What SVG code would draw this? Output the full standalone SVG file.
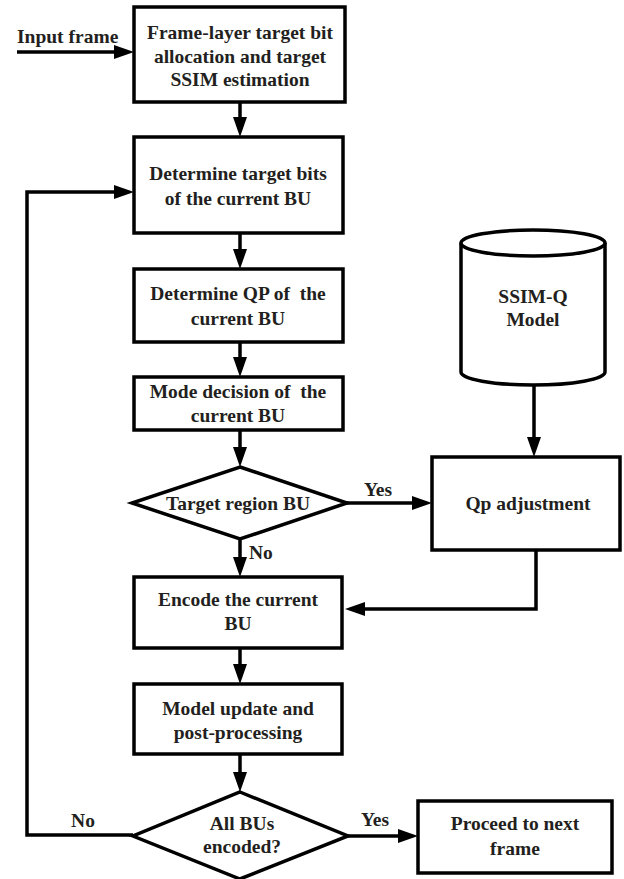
<svg xmlns="http://www.w3.org/2000/svg" width="624" height="879" viewBox="0 0 624 879">
<defs>
<style>
.box{fill:#fff;stroke:#000;stroke-width:3.5}
.ln{fill:none;stroke:#000;stroke-width:3.5}
.t{font-family:"Liberation Serif","Times New Roman",serif;font-weight:bold;font-size:19.5px;fill:#231f20;text-anchor:middle}
.ts{text-anchor:start}
</style>
<marker id="ah" viewBox="0 0 20 14" refX="14" refY="7" markerWidth="20" markerHeight="14" markerUnits="userSpaceOnUse" orient="auto">
<path d="M0,0 L20,7 L0,14 z" fill="#000"/>
</marker>
</defs>
<rect width="624" height="879" fill="#fff"/>

<g id="connectors">
<line class="ln" x1="17" y1="52" x2="128" y2="52" marker-end="url(#ah)"/>
<line class="ln" x1="240" y1="102" x2="240" y2="131" marker-end="url(#ah)"/>
<line class="ln" x1="240" y1="233" x2="240" y2="263" marker-end="url(#ah)"/>
<line class="ln" x1="240" y1="342" x2="240" y2="371" marker-end="url(#ah)"/>
<line class="ln" x1="240" y1="430" x2="240" y2="461" marker-end="url(#ah)"/>
<line class="ln" x1="240" y1="539" x2="240" y2="571" marker-end="url(#ah)"/>
<line class="ln" x1="240" y1="648" x2="240" y2="678" marker-end="url(#ah)"/>
<line class="ln" x1="240" y1="754" x2="240" y2="786" marker-end="url(#ah)"/>
<line class="ln" x1="347" y1="503" x2="426" y2="503" marker-end="url(#ah)"/>
<line class="ln" x1="534" y1="386" x2="534" y2="451" marker-end="url(#ah)"/>
<polyline class="ln" points="536,550 536,609 351,609" marker-end="url(#ah)"/>
<polyline class="ln" points="133,835 27,835 27,192 128,192" marker-end="url(#ah)"/>
<line class="ln" x1="348" y1="836" x2="412" y2="836" marker-end="url(#ah)"/>
<text class="t ts" x="17" y="43">Input frame</text>
<text class="t" x="378" y="496">Yes</text>
<text class="t ts" x="249" y="559">No</text>
<text class="t" x="83" y="827">No</text>
<text class="t" x="375" y="826">Yes</text>
</g>

<g id="frame-alloc">
<rect class="box" x="134" y="7" width="211" height="95"/>
<text class="t" x="240" y="39">Frame-layer target bit</text>
<text class="t" x="240" y="63">allocation and target</text>
<text class="t" x="240" y="86">SSIM estimation</text>
</g>

<g id="target-bits">
<rect class="box" x="134" y="137" width="209" height="96"/>
<text class="t" x="238" y="180">Determine target bits</text>
<text class="t" x="238" y="205">of the current BU</text>
</g>

<g id="determine-qp">
<rect class="box" x="134" y="269" width="209" height="73"/>
<text class="t" x="238" y="300" xml:space="preserve">Determine QP of  the</text>
<text class="t" x="238" y="325">current BU</text>
</g>

<g id="mode-decision">
<rect class="box" x="134" y="377" width="209" height="53"/>
<text class="t" x="238" y="398" xml:space="preserve">Mode decision of  the</text>
<text class="t" x="238" y="422">current BU</text>
</g>

<g id="target-region">
<polygon class="box" points="240,467 347,503 240,539 132,503"/>
<text class="t" x="238" y="510">Target region BU</text>
</g>

<g id="ssim-q-model">
<path class="box" d="M461,243 L461,372 A72,13 0 0 0 605,372 L605,243"/>
<ellipse class="box" cx="533" cy="243" rx="72" ry="13"/>
<text class="t" x="533" y="303">SSIM-Q</text>
<text class="t" x="533" y="326">Model</text>
</g>

<g id="qp-adjust">
<rect class="box" x="432" y="457" width="188" height="93"/>
<text class="t" x="528" y="510">Qp adjustment</text>
</g>

<g id="encode">
<rect class="box" x="134" y="577" width="208" height="71"/>
<text class="t" x="238" y="606">Encode the current</text>
<text class="t" x="238" y="630">BU</text>
</g>

<g id="model-update">
<rect class="box" x="134" y="684" width="208" height="70"/>
<text class="t" x="238" y="715">Model update and</text>
<text class="t" x="238" y="739">post-processing</text>
</g>

<g id="all-encoded">
<polygon class="box" points="240,792 348,836 240,879 133,836"/>
<text class="t" x="242" y="830">All BUs</text>
<text class="t" x="242" y="853">encoded?</text>
</g>

<g id="next-frame">
<rect class="box" x="418" y="801" width="194" height="72"/>
<text class="t" x="515" y="830">Proceed to next</text>
<text class="t" x="515" y="855">frame</text>
</g>
</svg>
